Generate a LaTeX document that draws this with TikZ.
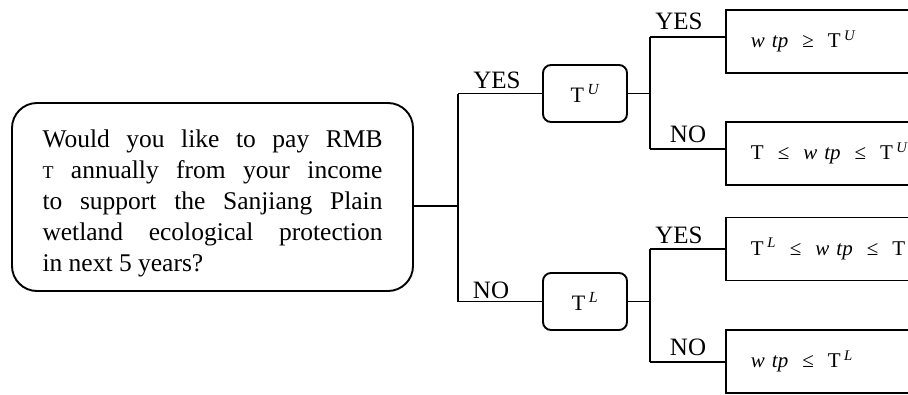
\documentclass[tikz,border=0pt]{standalone}
\usepackage{fontspec}
\setmainfont{Liberation Serif}
\begin{document}
\begin{tikzpicture}[x=1pt,y=-1pt,
  conn/.style={line width=1.7pt},
  qbox/.style={draw, line width=1.9pt, rounded corners=25pt, minimum width=401pt, minimum height=188pt,
     text width=340pt, align=justify, inner sep=0pt, font=\fontsize{25.5}{31}\selectfont},
  tbox/.style={draw, line width=1.9pt, rounded corners=8pt, minimum width=84pt, minimum height=57pt,
     inner sep=0pt, font=\fontsize{22}{26}\selectfont},
  rbox/.style={draw, line width=1.9pt, anchor=west, minimum height=63pt, text width=200pt,
     inner xsep=25pt, inner ysep=0pt, align=left, font=\fontsize{21}{25}\selectfont},
  lab/.style={anchor=base, inner sep=0pt, font=\fontsize{25}{30}\selectfont}]
\clip (0,0) rectangle (908,394);
\node[qbox] (q) at (212.5,197) {};
\node[text width=340pt, align=justify, inner sep=0pt, font=\fontsize{25.5}{31}\selectfont] (qt) at (212.5,203)
 {\hyphenpenalty=10000 Would you like to pay RMB\linebreak
 {\fontsize{18}{31}\selectfont T} annually from your income\linebreak
 to support the Sanjiang Plain\linebreak
 wetland ecological protection\linebreak
 in next 5 years?};
\node[tbox] (tu) at (585,93.5) {T\,\textsuperscript{\itshape U}};
\node[tbox] (tl) at (585,301.5) {T\,\textsuperscript{\itshape L}};
\node[rbox] (r1) at (725,41.5) {\textit{w\,\,tp}\ \ ≥\ \ T\,\textsuperscript{\itshape U}};
\node[rbox] (r2) at (725,153.5) {T\ \ ≤\ \ \textit{w\,\,tp}\ \ ≤\ \ T\,\textsuperscript{\itshape U}};
\node[rbox] (r3) at (725,249) {T\,\textsuperscript{\itshape L}\ \ ≤\ \ \textit{w\,\,tp}\ \ ≤\ \ T};
\node[rbox] (r4) at (725,361.5) {\textit{w\,\,tp}\ \ ≤\ \ T\,\textsuperscript{\itshape L}};
\coordinate (j0) at (458,206);
\coordinate (jU) at (458,93.5);
\coordinate (jL) at (458,301.5);
\coordinate (kU) at (650,93.5);
\coordinate (kU1) at (650,37);
\coordinate (kU2) at (650,149);
\coordinate (kL) at (650,301.5);
\coordinate (kL1) at (650,249);
\coordinate (kL2) at (650,362);
\draw[conn] (q.east |- j0) -- (j0);
\draw[conn] (jU) -- (jL);
\draw[conn] (jU) -- (tu.west);
\draw[conn] (jL) -- (tl.west);
\draw[conn] (tu.east) -- (kU);
\draw[conn] (tl.east) -- (kL);
\draw[conn] (kU1) -- (kU2);
\draw[conn] (kL1) -- (kL2);
\draw[conn] (kU1) -- (r1.west |- kU1);
\draw[conn] (kU2) -- (r2.west |- kU2);
\draw[conn] (kL1) -- (r3.west |- kL1);
\draw[conn] (kL2) -- (r4.west |- kL2);
\node[lab] (y0) at (497,88) {YES};
\node[lab] (n0) at (491,298) {NO};
\node[lab] (y1) at (679,29) {YES};
\node[lab] (n1) at (688,142) {NO};
\node[lab] (y2) at (679,243) {YES};
\node[lab] (n2) at (688,355) {NO};
\end{tikzpicture}
\end{document}
